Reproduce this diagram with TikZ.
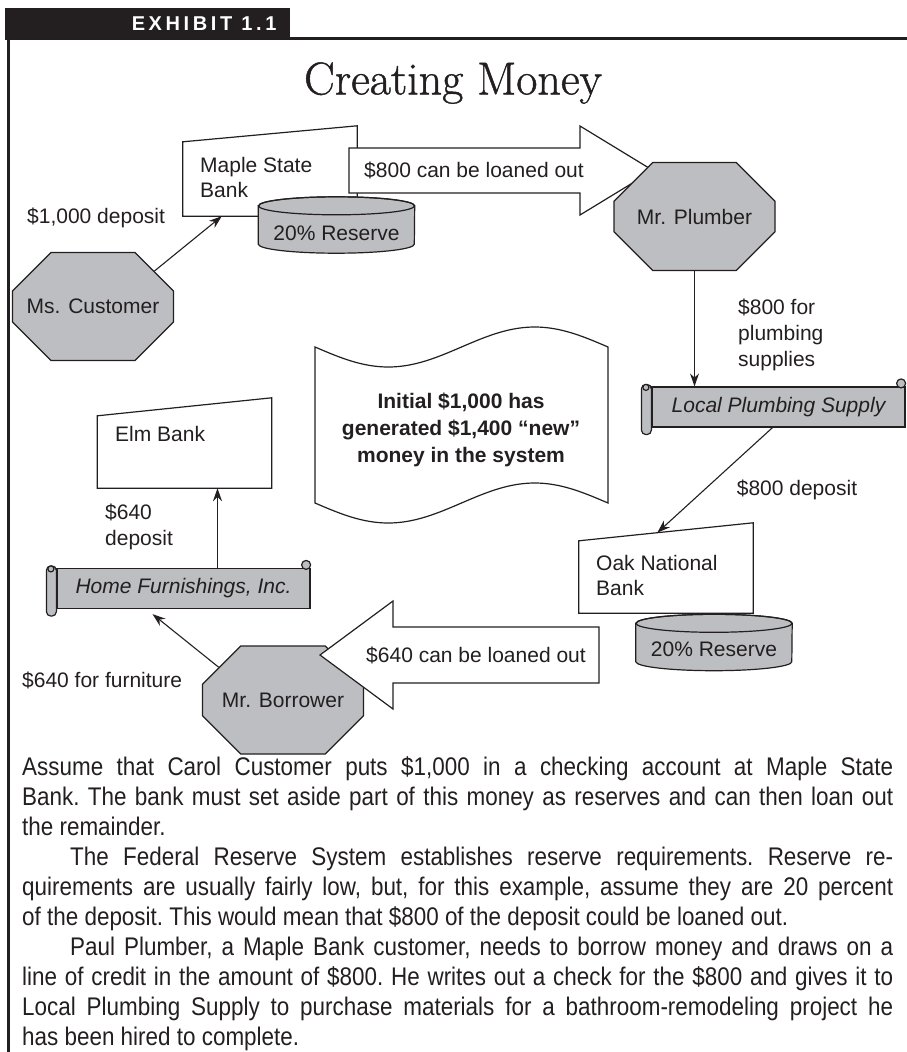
\documentclass[tikz,border=0pt]{standalone}
\usepackage{fontspec}
\setsansfont{Liberation Sans}
\newfontfamily\bodyfont{Liberation Sans}[FakeStretch=0.88]
\newfontfamily\exhibitfont{Liberation Sans}[LetterSpace=18]
\newfontfamily\titlefont{Latin Modern Roman}[FakeBold=1]
\usetikzlibrary{shapes.misc,arrows.meta,calc}
\definecolor{ink}{RGB}{35,31,32}
\definecolor{shade}{RGB}{188,190,194}
\newcommand{\scrollcurls}[1]{%
  \draw[outline, fill=shade, rounded corners=4.5pt] ([xshift=-10pt,yshift=2pt]#1.north west) -- ([yshift=2pt]#1.north west) -- ([yshift=-7pt]#1.south west) -- ([xshift=-10pt,yshift=-7pt]#1.south west) -- cycle;
  \draw[outline, fill=shade] ([xshift=-5.5pt,yshift=-1pt]#1.north west) circle (3pt);
  \draw[outline, fill=shade] ([xshift=-4.5pt,yshift=3pt]#1.north east) circle (4.5pt);
}
\newcommand{\reservedrum}[1]{%
  \draw[outline, fill=shade] ([yshift=-9pt]#1.north west) -- ([yshift=9pt]#1.south west) arc[start angle=180, end angle=360, x radius=78pt, y radius=9pt] -- ([yshift=-9pt]#1.north east) arc[start angle=0, end angle=180, x radius=78pt, y radius=9pt] -- cycle;
  \draw[outline] ([yshift=-9pt]#1.north) ellipse[x radius=78pt, y radius=9pt];
}

\begin{document}
\begin{tikzpicture}[x=1pt,y=-1pt,
  every node/.style={text=ink},
  outline/.style={draw=ink,line width=1.2pt},
  lbl/.style={font=\sffamily\fontsize{21}{25.5}\selectfont, inner sep=0pt},
  octo/.style={chamfered rectangle, chamfered rectangle xsep=31pt, chamfered rectangle ysep=31pt, outline, fill=shade, minimum width=161pt, minimum height=108pt, lbl},
  bankframe/.style={rectangle, minimum width=174pt, minimum height=90pt, inner sep=0pt},
  drumframe/.style={rectangle, minimum width=156pt, minimum height=56pt, inner sep=0pt},
  scroll/.style={rectangle, outline, fill=shade, minimum width=253pt, minimum height=40pt, lbl, font=\sffamily\itshape\fontsize{21}{24}\selectfont},
  link/.style={draw=ink, line width=1.1pt, -{Stealth[length=13pt,width=9pt]}},
]
\useasboundingbox (0,0) rectangle (907,1052);

\fill[ink] (5,8) rectangle (290,38);
\node[text=white, font=\exhibitfont\bfseries\fontsize{20}{24}\selectfont, anchor=east] (exhibit) at (280,23.5) {EXHIBIT 1.1};
\draw[ink, line width=2.5pt] (5,38.5) -- (907,38.5);
\draw[ink, line width=2.5pt] (8.5,37) -- (8.5,1052);
\node[font=\titlefont\fontsize{46}{52}\selectfont] (title) at (453,83) {Creating Money};

\node[bankframe] (maple) at (270,171) {};
\draw[outline, fill=white] (maple.south west) -- (maple.south east) -- (maple.north east) -- ([yshift=-16pt]maple.north west) -- cycle;
\node[lbl, anchor=north west, align=left] (mapletext) at (200,157) {Maple State\\Bank};
\draw[outline, fill=white] (349,148) -- (580,148) -- (580,126) -- (653,170.5) -- (580,215) -- (580,193) -- (349,193) -- cycle;
\node[lbl] (loanA) at (474,170.5) {\$800 can be loaned out};
\node[drumframe] (reserveA) at (336.5,225) {};
\reservedrum{reserveA}
\node[lbl] (reserveAtext) at ([yshift=-8pt]reserveA.center) {20\% Reserve};
\node[octo] (plumber) at (694.5,216.5) {Mr. Plumber};

\node[octo] (customer) at (93,306.5) {Ms. Customer};
\node[lbl, anchor=west] (depositA) at (27,218) {\$1,000 deposit};
\draw[link] (customer.30) -- ([xshift=39pt]maple.south west);

\node[scroll] (plumbing) at (778.5,407) {Local Plumbing Supply};
\scrollcurls{plumbing}
\draw[link] (plumber.south) -- (plumber.south |- plumbing.north);
\node[lbl, font=\sffamily\fontsize{21}{26}\selectfont, anchor=north west, align=left] (supplies) at (738,299) {\$800 for\\plumbing\\supplies};

\node[bankframe] (oak) at (666,568) {};
\draw[outline, fill=white] (oak.south west) -- (oak.south east) -- (oak.north east) -- coordinate[pos=0.55] (oaktop) ([yshift=-18pt]oak.north west) -- cycle;
\node[lbl, anchor=north west, align=left] (oaktext) at (596,555) {Oak National\\Bank};
\draw[link] ([xshift=-6pt]plumbing.south) -- (oaktop);
\node[lbl] (depositB) at (797,490) {\$800 deposit};
\node[drumframe] (reserveB) at (714,642.5) {};
\reservedrum{reserveB}
\node[lbl] (reserveBtext) at ([yshift=-7pt]reserveB.center) {20\% Reserve};

\draw[outline, fill=white] (315,347) sin (388.25,367) cos (461.5,347) sin (534.75,327) cos (608,347) -- (608,503) sin (534.75,483) cos (461.5,503) sin (388.25,523) cos (315,503) -- cycle;
\node[lbl, font=\sffamily\bfseries\fontsize{21}{27}\selectfont, align=center] (summary) at (461,430) {Initial \$1,000 has\\generated \$1,400 “new”\\money in the system};

\node[octo] (borrower) at (283,700) {Mr. Borrower};
\draw[outline, fill=white] (599,627) -- (393,627) -- (393,601) -- (320,655) -- (393,709) -- (393,683) -- (599,683) -- cycle;
\node[lbl] (loanB) at (476,655) {\$640 can be loaned out};

\node[scroll] (furnish) at (183.5,588.5) {Home Furnishings, Inc.};
\scrollcurls{furnish}
\draw[link] (borrower.153) -- ([xshift=-31pt,yshift=-5pt]furnish.south);
\node[lbl, anchor=west] (furniture) at (22,680) {\$640 for furniture};

\node[bankframe] (elm) at (184.5,443) {};
\draw[outline, fill=white] (elm.south west) -- (elm.south east) -- (elm.north east) -- ([yshift=-18pt]elm.north west) -- cycle;
\node[lbl, anchor=west] (elmtext) at (115,434) {Elm Bank};
\draw[link] ([xshift=34pt]furnish.north) -- ([xshift=34pt]furnish.north |- elm.south);
\node[lbl, anchor=north west, align=left] (depositC) at (105,504) {\$640\\deposit};

\node[anchor=north west, inner sep=0pt, text width=871pt, align=justify, font=\bodyfont\fontsize{25.5}{30}\selectfont] (story) at (22,756) {\tolerance=9999\hyphenpenalty=10000\frenchspacing
Assume that Carol Customer puts \$1,000 in a checking account at Maple State\linebreak
Bank. The bank must set aside part of this money as reserves and can then loan out\linebreak
the remainder.\par
\hspace*{48pt}The Federal Reserve System establishes reserve requirements. Reserve re-\linebreak
quirements are usually fairly low, but, for this example, assume they are 20 percent\linebreak
of the deposit. This would mean that \$800 of the deposit could be loaned out.\par
\hspace*{48pt}Paul Plumber, a Maple Bank customer, needs to borrow money and draws on a\linebreak
line of credit in the amount of \$800. He writes out a check for the \$800 and gives it to\linebreak
Local Plumbing Supply to purchase materials for a bathroom-remodeling project he\linebreak
has been hired to complete.};
\end{tikzpicture}
\end{document}
